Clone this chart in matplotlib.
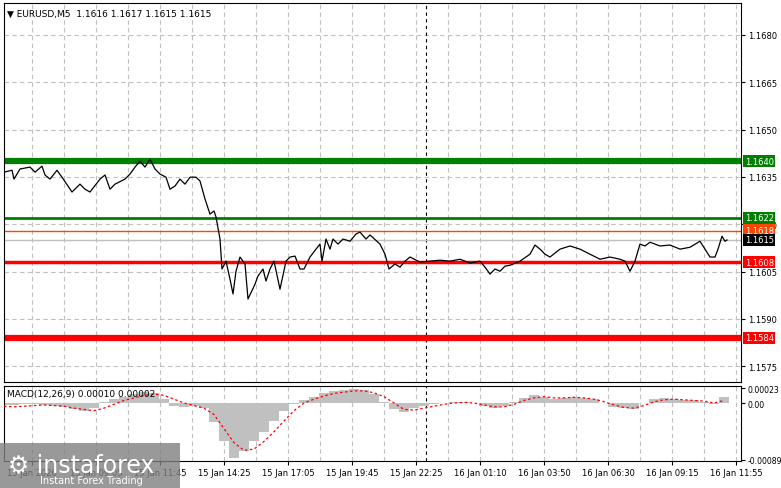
import matplotlib
matplotlib.use("Agg")
import matplotlib.pyplot as plt
from matplotlib.patches import Rectangle

# ---- data ----
bar_idx = [0,4,5,8,13,15.5,19,20.5,23,26.5,
           29,34,38,40.5,43,48,50.5,53,55.5,60.5,
           63,65.5,68,70.5,73,75.5,78,81,83,85.5,
           88,90.5,93,96,98,100.5,103,105,106,108,
           109,111,113,114.5,116,118,120.5,122,125.5,127,
           129.5,131,133,135,138,141,143,145.5,148,150,
           152,153,156,158,159,161,163,164.5,167,169.5,
           173,176,178,181,183,188,190.5,192.5,195.5,198,
           200.5,203,208,213,218,223,228,233,238,240.5,
           243,245.5,248,250.5,253,258,263,265.5,268,270.5,
           273,278,283,288,293,298,303,308,310.5,313,
           315.5,318,320.5,323,328,333,338,343,348,350.5,
           353,355.5,357,359,360.5,361.5]
price = [1.16365,1.16371,1.16343,1.16375,1.16381,1.16365,1.16384,1.16356,1.16343,1.16371,
         1.16349,1.16302,1.16327,1.16311,1.16302,1.16343,1.16356,1.16311,1.16327,1.16343,
         1.16359,1.16381,1.16400,1.16381,1.16406,1.16375,1.16359,1.16349,1.16311,1.16321,
         1.16343,1.16327,1.16349,1.16349,1.16337,1.16280,1.16232,1.16242,1.16223,1.16153,
         1.16058,1.16083,1.16026,1.15979,1.16051,1.16096,1.16074,1.15963,1.16010,1.16036,
         1.16058,1.16020,1.16058,1.16083,1.15994,1.16083,1.16096,1.16099,1.16058,1.16058,
         1.16083,1.16096,1.16121,1.16137,1.16083,1.16153,1.16121,1.16153,1.16137,1.16153,
         1.16146,1.16169,1.16175,1.16153,1.16166,1.16137,1.16105,1.16058,1.16074,1.16064,
         1.16083,1.16096,1.16080,1.16083,1.16086,1.16083,1.16089,1.16077,1.16083,1.16064,
         1.16042,1.16058,1.16051,1.16067,1.16070,1.16083,1.16105,1.16134,1.16121,1.16105,
         1.16096,1.16121,1.16131,1.16121,1.16105,1.16089,1.16096,1.16089,1.16083,1.16051,
         1.16083,1.16137,1.16131,1.16143,1.16131,1.16134,1.16121,1.16127,1.16146,1.16121,
         1.16096,1.16096,1.16121,1.16162,1.16146,1.16150]

macd_idx = list(range(0, 361, 5))
macd_hist = [-0.00003,-0.00003,-0.00002,-0.00002,-0.00003,-0.00004,-0.00006,-0.00010,-0.00013,-0.00008,0.00002,0.00006,0.00010,0.00014,0.00018,0.00015,0.00006,-0.00004,-0.00006,-0.00005,-0.00008,-0.00030,-0.00060,-0.00086,-0.00075,-0.00060,-0.00045,-0.00028,-0.00012,-0.00002,0.00004,0.00010,0.00016,0.00019,0.00021,0.00022,0.00020,0.00014,0.00002,-0.00010,-0.00014,-0.00008,-0.00004,-0.00002,0.00000,0.00001,0.00002,0.00000,-0.00004,-0.00008,-0.00005,0.00002,0.00008,0.00012,0.00010,0.00006,0.00008,0.00010,0.00008,0.00006,0.00000,-0.00006,-0.00008,-0.00010,0.00000,0.00006,0.00008,0.00006,0.00004,0.00004,0.00002,-0.00002,0.00010]
macd_signal = [-0.00005,-0.00006,-0.00005,-0.00004,-0.00003,-0.00004,-0.00005,-0.00008,-0.00010,-0.00012,-0.00008,-0.00002,0.00004,0.00008,0.00012,0.00014,0.00012,0.00006,0.00000,-0.00004,-0.00008,-0.00018,-0.00040,-0.00062,-0.00074,-0.00072,-0.00060,-0.00045,-0.00028,-0.00012,0.00000,0.00006,0.00011,0.00015,0.00017,0.00019,0.00019,0.00016,0.00010,0.00000,-0.00010,-0.00011,-0.00008,-0.00005,-0.00002,0.00000,0.00001,0.00000,-0.00003,-0.00006,-0.00006,-0.00002,0.00004,0.00008,0.00010,0.00008,0.00008,0.00009,0.00008,0.00006,0.00002,-0.00003,-0.00007,-0.00008,-0.00004,0.00002,0.00005,0.00006,0.00005,0.00004,0.00003,0.00000,0.00004]

price_ticks = [1.1575,1.1590,1.1605,1.1620,1.1635,1.1650,1.1665,1.1680]
time_tick_idx = [14,46,78,110,142,174,206,238,270,302,334,366]
time_labels = ["15 Jan 2026","15 Jan 09:05","15 Jan 11:45","15 Jan 14:25","15 Jan 17:05","15 Jan 19:45","15 Jan 22:25","16 Jan 01:10","16 Jan 03:50","16 Jan 06:30","16 Jan 09:15","16 Jan 11:55"]
levels = [(1.1640,"#008000",4.5),(1.1622,"#008000",2),(1.1618,"#ff4500",1),(1.1615,"#c0c0c0",1),(1.1608,"#ff0000",2.5),(1.1584,"#ff0000",4.5)]
level_boxes = [(1.1640,"#008000","white"),(1.1622,"#008000","white"),(1.1618,"#ff4500","white"),(1.1615,"black","white"),(1.1608,"#ff0000","white"),(1.1584,"#ff0000","white")]

W, H = 781, 489
fig = plt.figure(figsize=(W/100, H/100), dpi=100)
fig.patch.set_facecolor("white")
L, R = 4/W, 741/W
ax = fig.add_axes([L, 1-383/H, R-L, (383-4)/H])
ax2 = fig.add_axes([L, 1-462/H, R-L, (462-387)/H])

xl = (0, 368.5)
for a in (ax, ax2):
    a.set_xlim(*xl)
    for x in range(-18, 369, 16):
        a.axvline(x, color="#c0c0c0", ls=(0,(4,3)), lw=0.8, zorder=0)
    a.axvline(211, color="black", ls=(0,(3,3)), lw=0.8, zorder=1)
    a.tick_params(axis="both", length=3, labelsize=6, direction="out", pad=2)
    a.yaxis.tick_right()
    for s in a.spines.values():
        s.set_linewidth(0.8)

ax.set_ylim(1.15700, 1.16901)
ax.set_yticks(price_ticks)
ax.set_yticklabels([f"{v:.4f}" for v in price_ticks])
for v in price_ticks:
    ax.axhline(v, color="#c0c0c0", ls=(0,(4,3)), lw=0.8, zorder=0)
for v, c, lw in levels:
    ax.axhline(v, color=c, lw=lw, zorder=2)
ax.plot(bar_idx, price, color="black", lw=0.9, zorder=3)
ax.set_xticks([])
for v, bg, fg in level_boxes:
    ax.text(1.005, v, f"{v:.4f}", transform=ax.get_yaxis_transform(), fontsize=6,
            color=fg, va="center", ha="left",
            bbox=dict(boxstyle="square,pad=0.2", fc=bg, ec="none"), clip_on=False)
ax.text(0.004, 0.985, "\u25bc EURUSD,M5  1.1616 1.1617 1.1615 1.1615", transform=ax.transAxes,
        fontsize=6.5, va="top", ha="left")

ax2.set_ylim(-0.000906, 0.000266)
ax2.bar(macd_idx, macd_hist, width=5, color="#c0c0c0", zorder=2)
ax2.plot(macd_idx, macd_signal, color="red", ls=(0,(2,2)), lw=0.9, zorder=3)
ax2.set_yticks([0.00023, 0.0, -0.00089])
ax2.set_yticklabels(["0.00023", "0.00", "-0.00089"])
ax2.tick_params(axis="y", labelsize=5.6, pad=1.5)
ax2.set_xticks(time_tick_idx)
ax2.set_xticklabels(time_labels)
ax2.text(0.004, 0.96, "MACD(12,26,9) 0.00010 0.00002", transform=ax2.transAxes,
         fontsize=6.5, va="top", ha="left")

fig.patches.append(Rectangle((0, 0), 180/W, 45/H, transform=fig.transFigure,
                             fc="#808080", alpha=0.8, ec="none", zorder=10))
fig.text(8/W, 24/H, "\u2699 instaforex", fontsize=17, color="white", zorder=11, va="center")
fig.text(40/W, 5/H, "Instant Forex Trading", fontsize=7, color="white", zorder=11)
fig.savefig("out.png", dpi=100)
